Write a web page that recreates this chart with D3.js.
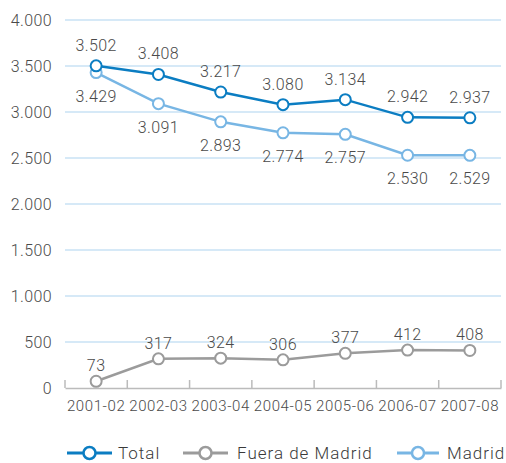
<!DOCTYPE html>
<html><head><meta charset="utf-8">
<script src="https://cdn.jsdelivr.net/npm/d3@7"></script>
<style>body{margin:0;background:#fff;} text{font-family:Roboto, "DejaVu Sans", sans-serif;}</style>
</head><body>
<svg id="c" width="506" height="463"></svg>
<script>
const categories = ["2001-02","2002-03","2003-04","2004-05","2005-06","2006-07","2007-08"];
const total = [3502,3408,3217,3080,3134,2942,2937];
const fuera = [73,317,324,306,377,412,408];
const madrid = [3429,3091,2893,2774,2757,2530,2529];
const yTicks = [0,500,1000,1500,2000,2500,3000,3500,4000];
const seriesNames = ["Total","Fuera de Madrid","Madrid"];

const fmt = v => d3.format(",")(v).replace(/,/g,".");
const svg = d3.select("#c");
const x = d3.scaleBand().domain(categories).range([65,501]);
const y = d3.scaleLinear().domain([0,4000]).range([388,20]);
const cx = d => x(d) + x.bandwidth()/2;

svg.append("g").selectAll("line").data(yTicks.filter(t=>t>0)).join("line")
  .attr("x1",65).attr("x2",501).attr("y1",d=>y(d)).attr("y2",d=>y(d))
  .attr("stroke","#aed3ef").attr("stroke-width",1.2);

svg.append("g").selectAll("text").data(yTicks).join("text")
  .attr("x",52).attr("y",d=>y(d)).attr("dy","0.36em").attr("text-anchor","end")
  .attr("font-size",16).attr("letter-spacing","0.4px").attr("font-weight",300).attr("fill","#4a4a4a").text(fmt);

const xa = d3.axisBottom(x).tickSize(0).tickPadding(12);
const gx = svg.append("g").attr("transform","translate(0,388)").call(xa);
gx.select(".domain").attr("stroke","#bbb").attr("stroke-width",1.5);
gx.selectAll("text").attr("font-size",15).attr("letter-spacing","0.6px").attr("font-weight",300)
  .attr("fill","#4a4a4a").attr("font-family","Roboto, sans-serif");
const bounds = categories.map(c=>x(c)).concat([501]);
svg.append("g").selectAll("line").data(bounds).join("line")
  .attr("x1",d=>d).attr("x2",d=>d).attr("y1",380).attr("y2",388)
  .attr("stroke","#bbb").attr("stroke-width",1.5);

const series = [
  {name:seriesNames[0], data:total, color:"#0b7dc2", off:-15},
  {name:seriesNames[1], data:fuera, color:"#9b9b9b", off:-10},
  {name:seriesNames[2], data:madrid, color:"#78b6e4", off:29}
];
const line = d3.line().x((d,i)=>cx(categories[i])).y(d=>y(d));
[series[1],series[2],series[0]].forEach(s=>{
  const g = svg.append("g");
  g.append("path").attr("d",line(s.data)).attr("fill","none").attr("stroke",s.color).attr("stroke-width",2.5);
  g.selectAll("circle").data(s.data).join("circle")
    .attr("cx",(d,i)=>cx(categories[i])).attr("cy",d=>y(d)).attr("r",5.5)
    .attr("fill","#fff").attr("stroke",s.color).attr("stroke-width",2);
  g.selectAll("text").data(s.data).join("text")
    .attr("x",(d,i)=>cx(categories[i])).attr("y",d=>y(d)+s.off)
    .attr("text-anchor","middle").attr("font-size",16).attr("letter-spacing","0.4px").attr("font-weight",300)
    .attr("fill","#4a4a4a").text(fmt);
});

const leg = [
  {s:series[0], x1:67, x2:112, tx:118},
  {s:series[1], x1:183, x2:228, tx:237},
  {s:series[2], x1:397, x2:439, tx:447}
];
const lg = svg.append("g");
leg.forEach(l=>{
  lg.append("line").attr("x1",l.x1).attr("x2",l.x2).attr("y1",453).attr("y2",453)
    .attr("stroke",l.s.color).attr("stroke-width",3);
  lg.append("circle").attr("cx",(l.x1+l.x2)/2).attr("cy",453).attr("r",6)
    .attr("fill","#fff").attr("stroke",l.s.color).attr("stroke-width",2.5);
  lg.append("text").attr("x",l.tx).attr("y",453).attr("dy","0.36em")
    .attr("font-size",17).attr("letter-spacing","1px").attr("font-weight",300)
    .attr("fill","#3a3a3a").text(l.s.name);
});
</script>
</body></html>
